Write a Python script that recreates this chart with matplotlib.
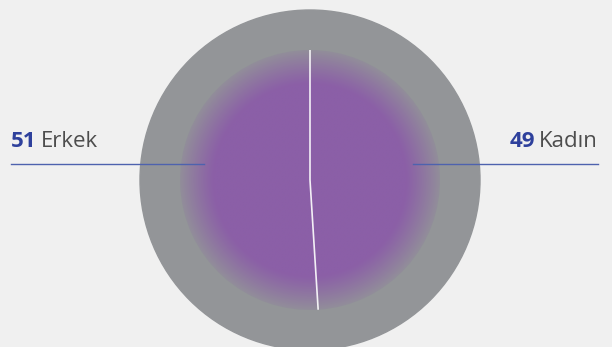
import matplotlib
matplotlib.use('Agg')
import matplotlib.pyplot as plt
import numpy as np

# share of respondents by gender
labels = ['Kadın', 'Erkek']
values = [49, 51]

BG = '#f0f0f0'
GRAY = np.array([147, 149, 152]) / 255.0
PURPLE = np.array([139, 95, 167]) / 255.0
BLUE = '#2e409c'
LINE = '#4e62ae'
TEXT = '#4d4d4d'

W, H = 612, 347
cx, cy = 310, 347 - 180
r_in, r_out = 130, 170

fig = plt.figure(figsize=(W / 100, H / 100), dpi=100, facecolor=BG)
ax = fig.add_axes([0, 0, 1, 1])
ax.set_facecolor(BG)

# outer gray disk
ax.add_patch(plt.Circle((cx, cy), r_out, color=GRAY, zorder=1))

wedges, _ = ax.pie(values, center=(cx, cy), radius=r_in, startangle=90,
                   counterclock=False, frame=True,
                   wedgeprops=dict(linewidth=0))

# radial gradient: purple in the middle, fading into gray at the rim
n = 400
xs = np.linspace(cx - r_in, cx + r_in, n)
ys = np.linspace(cy - r_in, cy + r_in, n)
X, Y = np.meshgrid(xs, ys)
rr = np.sqrt((X - cx) ** 2 + (Y - cy) ** 2) / r_in
t = np.clip((rr - 0.74) / 0.26, 0, 1) ** 1.1 * 0.86
img = PURPLE[None, None, :] * (1 - t[..., None]) + GRAY[None, None, :] * t[..., None]

for w in wedges:
    im = ax.imshow(img, extent=(cx - r_in, cx + r_in, cy - r_in, cy + r_in),
                   origin='lower', zorder=2, interpolation='bilinear')
    im.set_clip_path(w)
    w.set_facecolor('none')

# white separators along the wedge boundaries only (no rim)
for w in wedges:
    a = np.deg2rad(w.theta1)
    ax.plot([cx, cx + r_in * np.cos(a)], [cy, cy + r_in * np.sin(a)],
            color='white', lw=1.2, alpha=0.9, zorder=3, solid_capstyle='butt')

ax.set_xlim(0, W)
ax.set_ylim(0, H)
ax.set_aspect('equal')
ax.axis('off')

# leader lines
ax.plot([11, 204], [347 - 164, 347 - 164], color=LINE, lw=1, zorder=4)
ax.plot([413, 598], [347 - 164, 347 - 164], color=LINE, lw=1, zorder=4)

fs = 16
font = 'Open Sans'
by = 347 - 147

fig.canvas.draw()
rend = fig.canvas.get_renderer()
inv = ax.transData.inverted()

# left label
t1 = ax.text(11, by, str(values[1]), color=BLUE, fontsize=fs, fontweight='bold',
             family=font, ha='left', va='baseline')
bb = t1.get_window_extent(rend)
x_end = inv.transform((bb.x1, bb.y0))[0]
ax.text(x_end + 4, by, labels[1], color=TEXT, fontsize=fs, family=font,
        ha='left', va='baseline')

# right label
t2 = ax.text(598, by, labels[0], color=TEXT, fontsize=fs, fontweight='medium',
             family=font, ha='right', va='baseline')
bb = t2.get_window_extent(rend)
x_start = inv.transform((bb.x0, bb.y0))[0]
ax.text(x_start - 4, by, str(values[0]), color=BLUE, fontsize=fs, fontweight='bold',
        family=font, ha='right', va='baseline')

fig.savefig('out.png', dpi=100, facecolor=BG)
